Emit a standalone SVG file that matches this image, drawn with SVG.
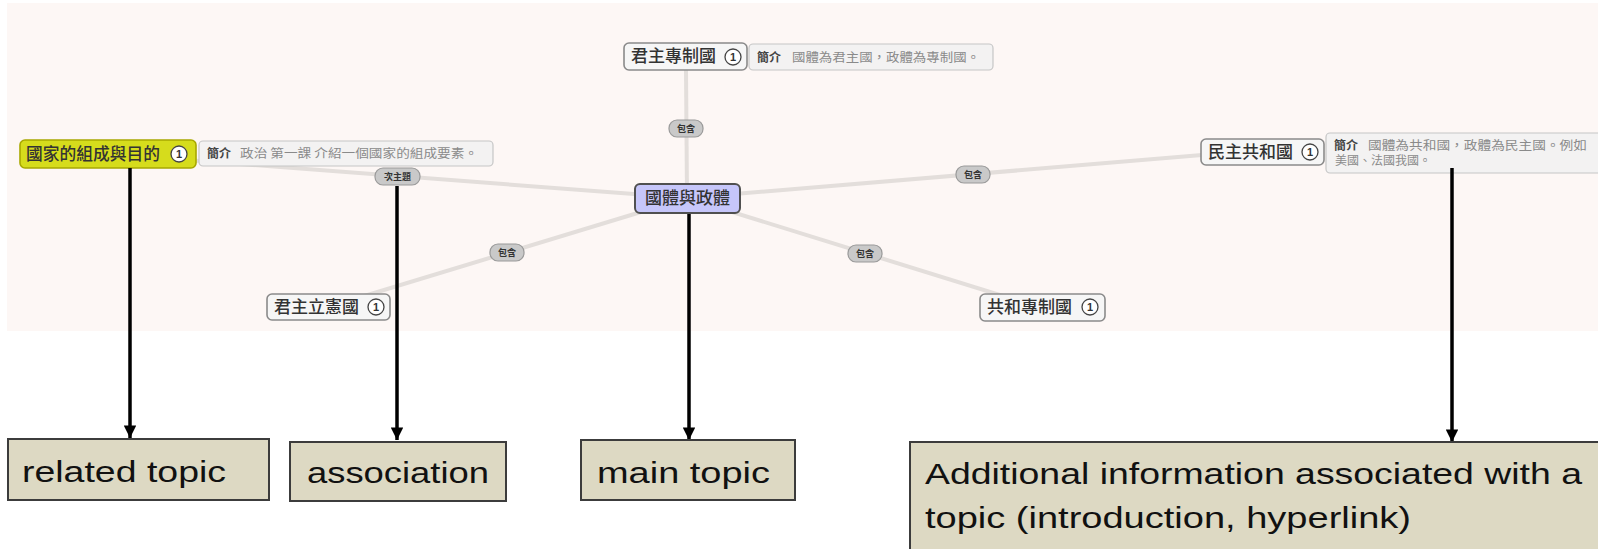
<svg xmlns="http://www.w3.org/2000/svg" width="1598" height="549" viewBox="0 0 1598 549">
<defs>
<marker id="ah" viewBox="0 0 10 10" refX="10" refY="5" markerWidth="3.6" markerHeight="3.6" orient="auto" markerUnits="strokeWidth">
<path d="M0,0 L10,5 L0,10 z" fill="#000"/>
</marker>
<style>
.bg{fill:#fdf7f5}
.conn{stroke:#e3dedb;stroke-width:4;fill:none}
.lbl rect{fill:#c9c9c9;stroke:#9a9a9a;stroke-width:1.2}
.lbl text{font-family:"Noto Sans CJK TC","Noto Sans CJK SC",sans-serif;font-size:9px;font-weight:700;fill:#333;text-anchor:middle}
.topic{fill:#f6f6f6;stroke:#8a8a8a;stroke-width:1.6}
.ttxt{font-family:"Noto Sans CJK TC","Noto Sans CJK SC",sans-serif;font-size:17px;font-weight:500;fill:#333}
.num circle{fill:#fff;stroke:#444;stroke-width:1.3}
.num text{font-family:"Liberation Sans",sans-serif;font-size:11px;font-weight:700;fill:#333;text-anchor:middle}
.info{fill:#f3f2f2;stroke:#c6c6c6;stroke-width:1.2}
.ib{font-family:"Noto Sans CJK TC","Noto Sans CJK SC",sans-serif;font-size:12px;font-weight:700;fill:#444}
.ig{font-family:"Noto Sans CJK TC","Noto Sans CJK SC",sans-serif;font-size:12px;fill:#8a8a8a}
.arr{stroke:#000;stroke-width:3.5;fill:none;marker-end:url(#ah)}
.cap{fill:#ddd9c3;stroke:#3c3c3c;stroke-width:2}
.ctxt{font-family:"Liberation Sans",sans-serif;font-size:30px;fill:#111}
</style>
</defs>
<rect class="bg" x="7" y="3" width="1591" height="328"/>
<g id="connectors">
<line class="conn" x1="687" y1="198" x2="686" y2="70"/>
<line class="conn" x1="687" y1="198" x2="108" y2="154"/>
<line class="conn" x1="687" y1="198" x2="1262" y2="150"/>
<line class="conn" x1="687" y1="198" x2="328" y2="307"/>
<line class="conn" x1="687" y1="198" x2="1042" y2="308"/>
<g class="lbl"><rect x="669" y="120" width="34" height="17" rx="8"/><text x="686" y="132">包含</text></g>
<g class="lbl"><rect x="375" y="168" width="45" height="17" rx="8"/><text x="397.5" y="180">次主題</text></g>
<g class="lbl"><rect x="956" y="166" width="34" height="17" rx="8"/><text x="973" y="178">包含</text></g>
<g class="lbl"><rect x="490" y="244" width="34" height="17" rx="8"/><text x="507" y="256">包含</text></g>
<g class="lbl"><rect x="848" y="245" width="34" height="17" rx="8"/><text x="865" y="257">包含</text></g>
</g>
<g id="main-topic">
<rect x="635" y="184" width="105" height="29" rx="5" fill="#c6c6fa" stroke="#505050" stroke-width="2"/>
<text class="ttxt" x="687.5" y="204" text-anchor="middle">國體與政體</text>
</g>
<g id="topic-absolute">
<rect class="topic" x="624" y="43" width="123" height="27" rx="5"/>
<text class="ttxt" x="631" y="62">君主專制國</text>
<g class="num"><circle cx="733" cy="57" r="8"/><text x="733" y="61">1</text></g>
<rect class="info" x="749" y="44" width="244" height="26" rx="4"/>
<text class="ib" x="757" y="62">簡介</text>
<text class="ig" x="792" y="62" textLength="188" lengthAdjust="spacingAndGlyphs">國體為君主國，政體為專制國。</text>
</g>
<g id="topic-related">
<rect x="20" y="140" width="176" height="28" rx="5" fill="#d6dc1c" stroke="#a8a800" stroke-width="1.6"/>
<text class="ttxt" x="26" y="160" textLength="134" lengthAdjust="spacingAndGlyphs">國家的組成與目的</text>
<g class="num"><circle cx="179" cy="154" r="8" fill="#d6dc1c"/><text x="179" y="158">1</text></g>
<rect class="info" x="199" y="141" width="294" height="25" rx="4"/>
<text class="ib" x="207" y="158">簡介</text>
<text class="ig" x="240" y="158" textLength="238" lengthAdjust="spacingAndGlyphs">政治 第一課 介紹一個國家的組成要素。</text>
</g>
<g id="topic-democratic-republic">
<rect class="topic" x="1201" y="139" width="123" height="26" rx="5"/>
<text class="ttxt" x="1208" y="158">民主共和國</text>
<g class="num"><circle cx="1310" cy="152" r="8"/><text x="1310" y="156">1</text></g>
<rect class="info" x="1326" y="133" width="280" height="40" rx="4"/>
<text class="ib" x="1334" y="150">簡介</text>
<text class="ig" x="1368" y="150" textLength="219" lengthAdjust="spacingAndGlyphs">國體為共和國，政體為民主國。例如</text>
<text class="ig" x="1335" y="165">美國、法國我國。</text>
</g>
<g id="topic-constitutional">
<rect class="topic" x="267" y="294" width="123" height="26" rx="5"/>
<text class="ttxt" x="274" y="313">君主立憲國</text>
<g class="num"><circle cx="376" cy="307" r="8"/><text x="376" y="311">1</text></g>
</g>
<g id="topic-republic-autocratic">
<rect class="topic" x="980" y="294" width="125" height="27" rx="5"/>
<text class="ttxt" x="987" y="313">共和專制國</text>
<g class="num"><circle cx="1090" cy="307" r="8"/><text x="1090" y="311">1</text></g>
</g>
<g id="callout-arrows">
<line class="arr" x1="130" y1="168" x2="130" y2="438"/>
<line class="arr" x1="397" y1="186" x2="397" y2="440"/>
<line class="arr" x1="689" y1="214" x2="689" y2="440"/>
<line class="arr" x1="1452" y1="168" x2="1452" y2="442"/>
</g>
<g id="caption-related">
<rect class="cap" x="8" y="439" width="261" height="61"/>
<text class="ctxt" x="22" y="482" textLength="204" lengthAdjust="spacingAndGlyphs">related topic</text>
</g>
<g id="caption-association">
<rect class="cap" x="290" y="442" width="216" height="59"/>
<text class="ctxt" x="307" y="483" textLength="182" lengthAdjust="spacingAndGlyphs">association</text>
</g>
<g id="caption-main">
<rect class="cap" x="581" y="440" width="214" height="60"/>
<text class="ctxt" x="597" y="483" textLength="173" lengthAdjust="spacingAndGlyphs">main topic</text>
</g>
<g id="caption-additional">
<rect class="cap" x="910" y="442" width="700" height="120"/>
<text class="ctxt" x="925" y="484" textLength="657" lengthAdjust="spacingAndGlyphs">Additional information associated with a</text>
<text class="ctxt" x="925" y="528" textLength="486" lengthAdjust="spacingAndGlyphs">topic (introduction, hyperlink)</text>
</g>
</svg>
